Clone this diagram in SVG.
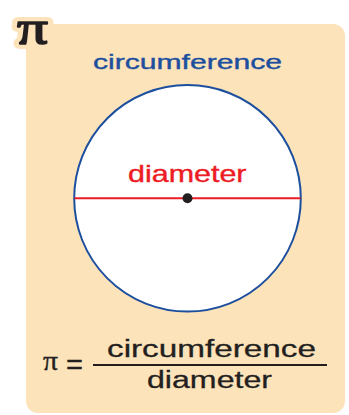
<svg xmlns="http://www.w3.org/2000/svg" width="349" height="415" viewBox="0 0 349 415">
  <style>
    .sans { font-family: "Liberation Sans", Arial, sans-serif; }
    .serif { font-family: "Liberation Serif", "Times New Roman", serif; }
    .blue { fill: #1d4f9f; stroke: #1d4f9f; stroke-width: 0.4; }
    .red { fill: #ed1c24; stroke: #ed1c24; stroke-width: 0.4; }
    .dark { fill: #231f20; stroke: #231f20; stroke-width: 0.3; }
  </style>
  <rect id="panel" x="26" y="24" width="319" height="389" rx="12" ry="12" fill="#fde3ba"/>
  <g id="pi-badge">
    <text x="17" y="43.6" class="serif" font-size="49" textLength="31" lengthAdjust="spacingAndGlyphs" fill="#fde3ba" stroke="#fde3ba" stroke-width="10" stroke-linejoin="round">π</text>
    <text x="17" y="43.6" class="serif" font-size="49" textLength="31" lengthAdjust="spacingAndGlyphs" fill="#231f20" stroke="#231f20" stroke-width="1.6" stroke-linejoin="round">π</text>
  </g>
  <g id="circle-node">
    <circle cx="187.5" cy="198.3" r="113.3" fill="#ffffff" stroke="#1d4f9f" stroke-width="2"/>
  </g>
  <g id="connectors">
    <line x1="74.5" y1="198.3" x2="300.5" y2="198.3" stroke="#ed1c24" stroke-width="2"/>
  </g>
  <g id="center-point">
    <circle cx="187.5" cy="198.3" r="5" fill="#231f20"/>
  </g>
  <g id="label-circumference">
    <text x="93" y="69.3" class="sans blue" font-size="21" textLength="189" lengthAdjust="spacingAndGlyphs">circumference</text>
  </g>
  <g id="label-diameter">
    <text x="128" y="181.7" class="sans red" font-size="24" textLength="118.5" lengthAdjust="spacingAndGlyphs">diameter</text>
  </g>
  <g id="formula">
    <text x="43" y="370" class="serif dark" font-size="27" textLength="15" lengthAdjust="spacingAndGlyphs">π</text>
    <text x="66" y="374" class="sans dark" font-size="28" textLength="17" lengthAdjust="spacingAndGlyphs">=</text>
    <text x="107" y="356.7" class="sans dark" font-size="23.5" textLength="209" lengthAdjust="spacingAndGlyphs">circumference</text>
    <line x1="93" y1="365" x2="327" y2="365" stroke="#231f20" stroke-width="2"/>
    <text x="147" y="388.3" class="sans dark" font-size="23.5" textLength="125" lengthAdjust="spacingAndGlyphs">diameter</text>
  </g>
</svg>
